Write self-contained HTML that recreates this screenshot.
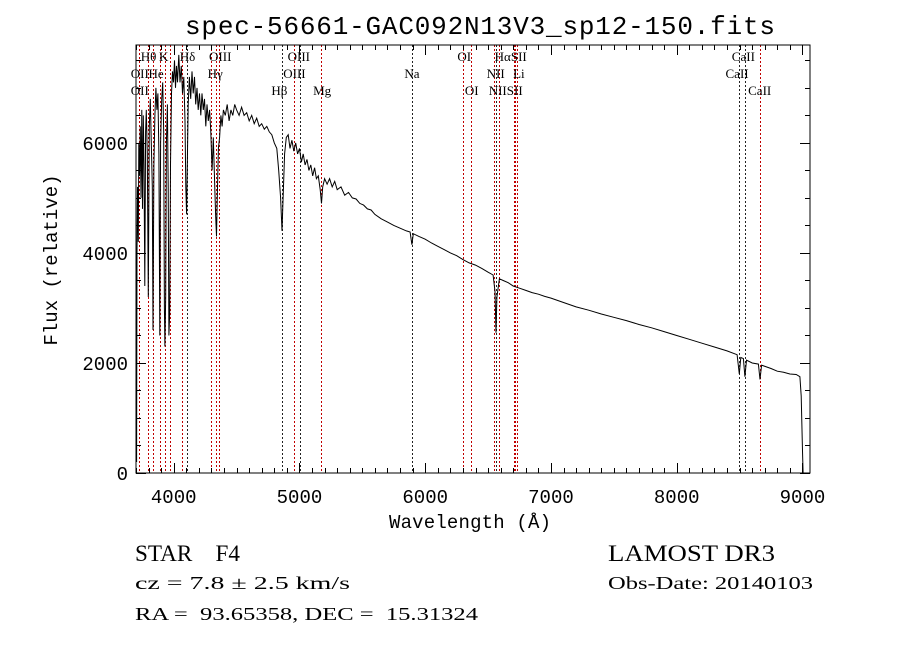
<!DOCTYPE html>
<html><head><meta charset="utf-8"><style>
body{margin:0;background:#fff;width:900px;height:649px;overflow:hidden}
svg{display:block}
text{font-family:"Liberation Serif",serif;fill:#000}
.mono{font-family:"Liberation Mono","DejaVu Sans Mono",monospace}
.lab{font-size:13px}
</style></head><body>
<svg id="chart" width="900" height="649" viewBox="0 0 900 649">
<text class="mono" x="480" y="34" font-size="26" text-anchor="middle" textLength="590">spec-56661-GAC092N13V3_sp12-150.fits</text>
<g id="lines"></g>
<g id="labels"></g>
<path id="spec" fill="none" stroke="#000" stroke-width="1"/>
<rect x="136" y="45" width="674" height="428" fill="none" stroke="#000" stroke-width="1"/>
<g id="axes"></g>
<text class="mono" x="470" y="528" font-size="19" text-anchor="middle" textLength="162">Wavelength (Å)</text>
<text class="mono" x="0" y="0" font-size="19" text-anchor="middle" transform="translate(57,260) rotate(-90)">Flux (relative)</text>
<text x="135" y="561" font-size="23" textLength="105" lengthAdjust="spacingAndGlyphs" xml:space="preserve">STAR    F4</text>
<text x="608" y="561" font-size="23" textLength="167" lengthAdjust="spacingAndGlyphs">LAMOST DR3</text>
<text x="135" y="589" font-size="18" textLength="215" lengthAdjust="spacingAndGlyphs">cz = 7.8 ± 2.5 km/s</text>
<text x="608" y="589" font-size="18" textLength="205" lengthAdjust="spacingAndGlyphs">Obs-Date: 20140103</text>
<text x="135" y="620" font-size="18" textLength="343" lengthAdjust="spacingAndGlyphs" xml:space="preserve">RA =  93.65358, DEC =  15.31324</text>
</svg>
<script>
const wave=[3705,3708,3712,3718,3722,3728,3734,3740,3746,3752,3758,3764,3770,3776,3782,3790,3798,3806,3814,3822,3830,3835,3842,3850,3858,3866,3874,3882,3889,3896,3904,3912,3920,3926,3930,3936,3942,3950,3956,3962,3968,3974,3982,3990,3998,4006,4014,4022,4030,4040,4050,4060,4070,4080,4090,4096,4102,4108,4115,4125,4135,4145,4155,4165,4175,4185,4195,4205,4215,4225,4235,4245,4255,4265,4275,4285,4295,4305,4315,4325,4333,4340,4347,4355,4365,4375,4385,4395,4410,4425,4440,4455,4470,4485,4500,4520,4540,4560,4580,4600,4620,4640,4660,4680,4700,4720,4740,4760,4780,4800,4820,4835,4850,4861,4870,4882,4895,4910,4925,4940,4955,4970,4985,5000,5015,5030,5045,5060,5075,5090,5105,5120,5135,5150,5165,5175,5185,5200,5220,5240,5260,5280,5300,5330,5360,5390,5420,5450,5480,5510,5540,5570,5600,5650,5700,5750,5800,5850,5880,5894,5905,5950,6000,6050,6100,6150,6200,6250,6300,6350,6400,6450,6500,6540,6555,6563,6570,6590,6620,6660,6700,6750,6800,6850,6900,6950,7000,7100,7200,7300,7400,7500,7600,7700,7800,7900,8000,8100,8200,8300,8400,8480,8498,8510,8530,8542,8555,8600,8650,8662,8675,8750,8800,8850,8900,8950,8980,8990,9000,9005];
const flux=[200,4000,5200,4200,6000,5400,6300,5000,6600,4800,6500,5600,3400,6200,6600,5800,3200,6300,6800,6000,5200,2600,5600,6500,7000,6600,6900,5800,2500,6000,6800,7100,6200,3000,2300,3200,6000,6700,5200,2500,2900,5600,6900,7300,7100,7500,7000,7400,7100,7600,7100,7400,6900,7200,6400,5200,4700,5600,6700,7200,6800,7300,6900,7200,6700,7000,6600,6900,6500,6900,6600,6800,6300,6700,6400,6600,6200,5500,6100,5300,4700,4300,5100,5900,6100,6500,6300,6600,6500,6700,6400,6600,6500,6700,6600,6500,6650,6500,6550,6400,6500,6350,6450,6300,6350,6250,6300,6200,6150,6000,5900,5500,5000,4400,5000,5800,6100,6150,5900,6050,5850,6000,5800,5900,5650,5800,5600,5700,5500,5600,5400,5550,5350,5400,5150,4900,5200,5350,5250,5350,5200,5300,5150,5200,5050,5100,5000,4980,4900,4870,4800,4780,4700,4620,4560,4500,4450,4400,4380,4150,4350,4300,4250,4180,4120,4060,4000,3950,3880,3820,3780,3720,3650,3600,3300,2550,3200,3530,3500,3460,3400,3360,3320,3280,3250,3210,3180,3100,3020,2960,2890,2830,2770,2700,2640,2570,2500,2430,2360,2290,2220,2150,1800,2100,2080,1750,2050,2000,1980,1700,1960,1900,1850,1830,1800,1790,1750,1400,400,0];
const lineWaves=[3727,3798,3835,3889,3934,3968,4068,4102,4300,4340,4363,4861,4959,5007,5175,5894,6300,6364,6548,6563,6583,6708,6717,6731,8498,8542,8662];
const lineRed=[1,1,1,1,1,1,1,0,1,1,1,0,1,0,1,0,1,1,1,0,1,1,1,1,0,0,1];
const labelText=["Hθ","K","Hδ","OIII","OIII","OI","HαSII","CaII","OII","He","Hγ","OIII","Na","NII","Li","CaII","OII","Hβ","Mg","OI","NIISII","CaII"];
const labelWave=[3800,3920,4110,4370,4995,6310,6680,8530,3730,3860,4330,4960,5895,6560,6745,8480,3730,4840,5180,6370,6640,8660];
const labelRow=[0,0,0,0,0,0,0,0,1,1,1,1,1,1,1,1,2,2,2,2,2,2];
const yTicks=[0,2000,4000,6000];
const xTicks=[4000,5000,6000,7000,8000,9000];
const X0=136,X1=810,Y0=473,Y1=45,WMIN=3700,WMAX=9060,FMIN=0,FMAX=7780;
const sx=w=>X0+(w-WMIN)/(WMAX-WMIN)*(X1-X0);
const sy=f=>Y0-(f-FMIN)/(FMAX-FMIN)*(Y0-Y1);
const NS="http://www.w3.org/2000/svg";
function mk(tag,parent){const e=document.createElementNS(NS,tag);parent.appendChild(e);return e;}
let d="";wave.forEach((w,i)=>{d+=(i?"L":"M")+sx(w).toFixed(1)+","+sy(flux[i]).toFixed(1);});
document.getElementById("spec").setAttribute("d",d);
const lg=document.getElementById("lines");
lineWaves.forEach((w,i)=>{const l=mk("line",lg);


const x=Math.round(sx(w))+0.5;l.setAttribute("x1",x);l.setAttribute("x2",x);l.setAttribute("y1",Y1);l.setAttribute("y2",Y0);
l.setAttribute("stroke",lineRed[i]?"#c00000":"#222");l.setAttribute("stroke-width","1");l.setAttribute("stroke-dasharray","2,2");});
const lb=document.getElementById("labels");
labelText.forEach((t,i)=>{const e=mk("text",lb);


e.setAttribute("class","lab");e.setAttribute("x",sx(labelWave[i]));e.setAttribute("y",61+labelRow[i]*17);e.setAttribute("text-anchor","middle");e.textContent=t;});
const ax=document.getElementById("axes");
function tick(x1,y1,x2,y2){const l=mk("line",ax);


l.setAttribute("x1",x1);l.setAttribute("y1",y1);l.setAttribute("x2",x2);l.setAttribute("y2",y2);l.setAttribute("stroke","#000");}
for(let f=0;f<=FMAX;f+=500){const y=Math.round(sy(f))+0.5,L=(f%2000==0)?10:5;tick(X0,y,X0+L,y);tick(X1,y,X1-L,y);}
for(let w=3700;w<=WMAX;w+=100){const x=Math.round(sx(w))+0.5,L=(w%1000==0)?10:5;tick(x,Y0,x,Y0-L);tick(x,Y1,x,Y1+L);}
yTicks.forEach(v=>{const t=mk("text",ax);


t.setAttribute("class","mono");t.setAttribute("x",128);t.setAttribute("y",sy(v)+7);t.setAttribute("text-anchor","end");t.setAttribute("font-size","19");t.textContent=v;});
xTicks.forEach(v=>{const t=mk("text",ax);


t.setAttribute("class","mono");t.setAttribute("x",sx(v));t.setAttribute("y",503);t.setAttribute("text-anchor","middle");t.setAttribute("font-size","19");t.textContent=v;});
</script>
</body></html>
